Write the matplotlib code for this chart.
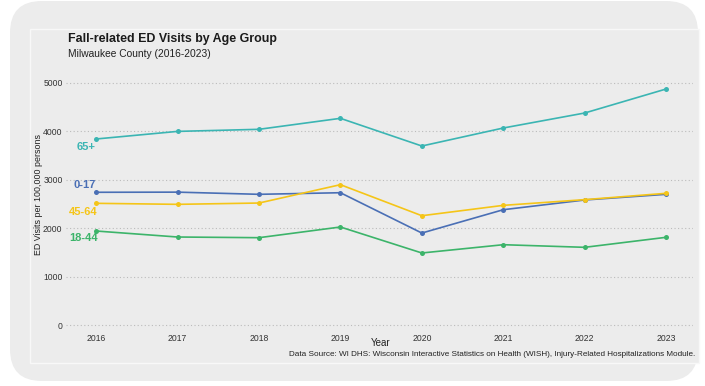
import matplotlib
matplotlib.use("Agg")
import matplotlib.pyplot as plt
from matplotlib.patches import FancyBboxPatch, Rectangle

plt.rcParams['font.family'] = ['Liberation Sans', 'DejaVu Sans']

years = [2016, 2017, 2018, 2019, 2020, 2021, 2022, 2023]
age_groups = ["65+", "0-17", "45-64", "18-44"]
rate_65_plus = [3843, 4000, 4043, 4270, 3698, 4070, 4380, 4876]
rate_0_17 = [2742, 2745, 2700, 2733, 1900, 2382, 2583, 2700]
rate_45_64 = [2514, 2493, 2520, 2899, 2258, 2472, 2590, 2721]
rate_18_44 = [1942, 1818, 1804, 2025, 1488, 1659, 1605, 1812]
y_ticks = [0, 1000, 2000, 3000, 4000, 5000]

series = {
    "65+": rate_65_plus,
    "0-17": rate_0_17,
    "45-64": rate_45_64,
    "18-44": rate_18_44,
}
colors = {
    "65+": "#3bb5b3",
    "0-17": "#4a6fb5",
    "45-64": "#f5c518",
    "18-44": "#3cb46a",
}
# label offsets (points) relative to the first point of each series
label_offsets = {
    "65+": (-7, -6),
    "0-17": (-8, 5),
    "45-64": (-9, -6),
    "18-44": (-9, -5),
}

W, H = 705, 386
fig = plt.figure(figsize=(W / 100, H / 100), dpi=100)
fig.patch.set_facecolor("white")

# rounded card behind the chart
card = FancyBboxPatch((10 / W, 5 / H), 688 / W, 380 / H,
                      boxstyle="round,pad=0,rounding_size=0.045",
                      transform=fig.transFigure, facecolor="#ececec",
                      edgecolor="none", mutation_aspect=W / H, zorder=0)
fig.patches.append(card)
# inner chart panel with a thin light border
panel = Rectangle((30 / W, 1 - 363 / H), 669 / W, 334 / H,
                  transform=fig.transFigure, facecolor="#ececec",
                  edgecolor="#f8f8f8", linewidth=1.0, zorder=1)
fig.patches.append(panel)


def px_to_fig(x, y):
    return x / W, 1 - y / H


# axes placement
left, right, top, bottom = 66, 693, 75, 330
ax = fig.add_axes([left / W, 1 - bottom / H, (right - left) / W, (bottom - top) / H])
ax.set_facecolor("none")
ax.set_zorder(2)

for name in age_groups:
    ax.plot(years, series[name], color=colors[name], linewidth=1.2,
            marker="o", markersize=3.6, markeredgewidth=0, zorder=3)
    dx, dy = label_offsets[name]
    ax.annotate(name, xy=(years[0], series[name][0]), xytext=(dx, dy),
                textcoords="offset points", ha="center", va="center",
                fontsize=8, fontweight="bold", color=colors[name])

ax.set_xlim(2015.63, 2023.33)
ax.set_ylim(-103, 5165)
ax.set_xticks(years)
ax.set_yticks(y_ticks)
ax.set_xticklabels([str(y) for y in years])
ax.tick_params(axis="both", length=0, labelsize=6.2, colors="#333333")
ax.tick_params(axis="x", pad=3)
ax.tick_params(axis="y", pad=2.5)
ax.grid(axis="y", linestyle=(0, (1, 2.2)), color="#bbbbbb", linewidth=0.8)
ax.grid(axis="x", visible=False)
for s in ax.spines.values():
    s.set_visible(False)

ax.set_ylabel("ED Visits per 100,000 persons", fontsize=6.4, color="#222222")
ax.yaxis.set_label_coords(-0.037, 0.53)
fig.text(*px_to_fig(381, 343), "Year", fontsize=7, color="#222222",
         ha="center", va="center")

fig.text(*px_to_fig(68, 39), "Fall-related ED Visits by Age Group",
         fontsize=8.9, fontweight="bold", color="#1a1a1a", ha="left", va="center")
fig.text(*px_to_fig(68, 54), "Milwaukee County (2016-2023)",
         fontsize=7.4, color="#222222", ha="left", va="center")
fig.text(*px_to_fig(695, 355),
         "Data Source: WI DHS: Wisconsin Interactive Statistics on Health (WISH), "
         "Injury-Related Hospitalizations Module.",
         fontsize=5.85, color="#222222", ha="right", va="center")

fig.savefig("out.png", dpi=100)
